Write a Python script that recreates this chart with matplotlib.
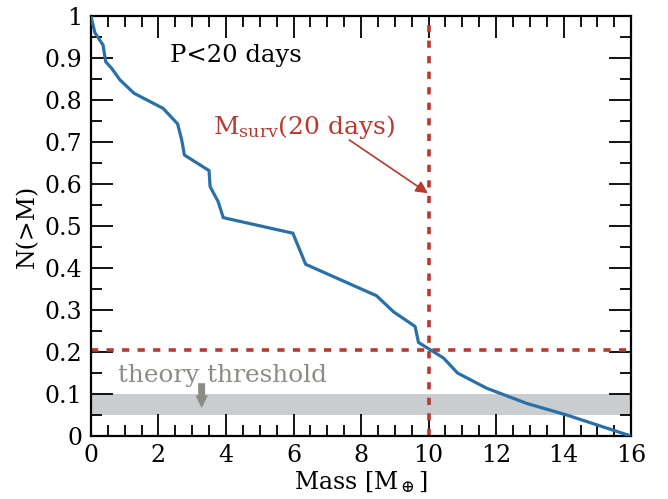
import matplotlib
matplotlib.use("Agg")
import matplotlib.pyplot as plt
from matplotlib.ticker import MultipleLocator

plt.rcParams['font.family'] = ['DejaVu Serif']
plt.rcParams['mathtext.fontset'] = 'dejavuserif'

mass = [0.0, 0.12, 0.36, 0.44, 0.61, 0.86, 1.28, 2.14, 2.57, 2.69, 2.77, 3.50, 3.53,
        3.77, 3.92, 5.98, 6.36, 8.46, 8.96, 9.60, 9.70, 10.44, 10.86, 11.72, 12.9,
        14.1, 16.0]
frac = [1.0, 0.96, 0.931, 0.891, 0.876, 0.848, 0.816, 0.780, 0.743, 0.705, 0.669,
        0.632, 0.594, 0.558, 0.520, 0.483, 0.409, 0.334, 0.296, 0.261, 0.223, 0.186,
        0.150, 0.114, 0.078, 0.050, 0.0]

m_surv = 10.0
n_surv = 0.205
band = (0.05, 0.10)
arrow_x = 3.28

blue = '#2a70a8'
red = '#b8392e'
gray = '#8c8c86'

fig = plt.figure(figsize=(6.68, 4.99), dpi=100)
ax = fig.add_axes([0.136, 0.126, 0.809, 0.842])

ax.axhspan(band[0], band[1], color='#c9cdcf', lw=0, zorder=0)
ax.plot(mass, frac, color=blue, lw=2.3, zorder=3)
ax.axvline(m_surv, color=red, lw=2.6, ls=(0, (2.0, 2.3)), zorder=2)
ax.axhline(n_surv, color=red, lw=2.6, ls=(0, (2.0, 2.3)), zorder=2)

ax.set_xlim(0, 16)
ax.set_ylim(0, 1)
ax.xaxis.set_major_locator(MultipleLocator(2))
ax.xaxis.set_minor_locator(MultipleLocator(0.5))
ax.yaxis.set_minor_locator(MultipleLocator(0.05))
ax.set_yticks([0, 0.1, 0.2, 0.3, 0.4, 0.5, 0.6, 0.7, 0.8, 0.9, 1.0])
ax.set_yticklabels(['0', '0.1', '0.2', '0.3', '0.4', '0.5', '0.6', '0.7', '0.8', '0.9', '1'])
ax.tick_params(which='both', direction='in', top=True, right=True, labelsize=17,
               width=1.3, pad=6)
ax.tick_params(which='major', length=16)
ax.tick_params(which='minor', length=8)
for s in ax.spines.values():
    s.set_linewidth(1.6)

ax.set_xlabel(r'Mass [M$_\oplus$]', fontsize=17, labelpad=1)
ax.set_ylabel('N(>M)', fontsize=17, labelpad=4)

ax.text(2.34, 0.905, 'P<20 days', fontsize=17.5, ha='left', va='center', color='black')
ax.text(3.62, 0.72, r'M$_{\rm surv}$(20 days)', fontsize=18, color=red,
        ha='left', va='baseline')
ax.annotate('', xy=(m_surv - 0.02, 0.578), xytext=(7.65, 0.705),
            arrowprops=dict(arrowstyle='-|>', color=red, lw=1.2,
                            mutation_scale=18, shrinkA=0, shrinkB=0))
ax.text(0.8, 0.128, 'theory threshold', fontsize=17.8, color=gray, ha='left',
        va='baseline')
ax.annotate('', xy=(arrow_x, 0.067), xytext=(arrow_x, 0.126),
            arrowprops=dict(arrowstyle='simple,head_width=0.9,head_length=0.9,tail_width=0.5',
                            color=gray, lw=0, shrinkA=0, shrinkB=0))

fig.savefig('out.png', dpi=100)
